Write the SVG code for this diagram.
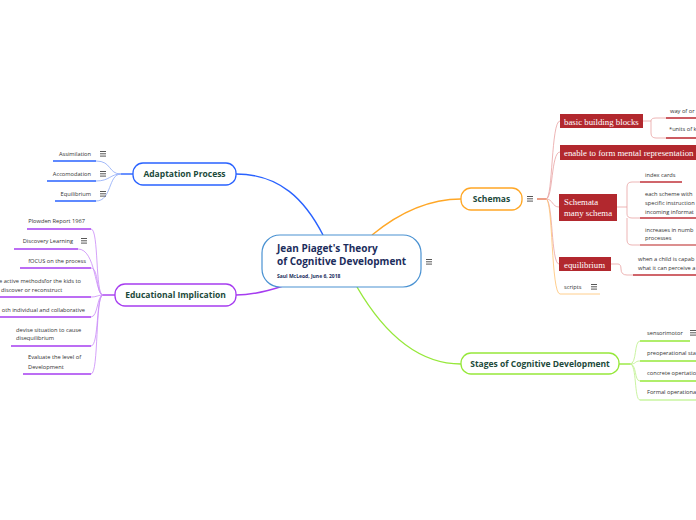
<svg xmlns="http://www.w3.org/2000/svg" xmlns:xlink="http://www.w3.org/1999/xlink" width="696" height="520" viewBox="0 0 696 520">
<defs>
<style>
.leaf{font-family:"Open Sans","Noto Sans",sans-serif;font-size:5.7px;fill:#333}
.end{text-anchor:end}
.topic{font-family:"Open Sans","Noto Sans",sans-serif;font-size:8.5px;font-weight:bold;fill:#1d4a3b;text-anchor:middle}
.title{font-family:"Open Sans","Noto Sans",sans-serif;font-size:10px;font-weight:bold;fill:#1b2d5c}
.sub{font-family:"Open Sans","Noto Sans",sans-serif;font-size:5px;font-weight:bold;fill:#1b2d5c}
.red{fill:#b2282e}
.redt{font-family:"Liberation Serif","DejaVu Serif",serif;font-size:8.8px;fill:#fff}
.thin{fill:none;stroke-width:0.8}
.ul{fill:none;stroke-width:1.6}
</style>
<g id="menu"><path d="M0,0.5H6M0,2.8H6M0,5.1H6" stroke="#444" stroke-width="0.9" fill="none"/></g>
</defs>
<rect width="696" height="520" fill="#fff"/>
<g id="connectors">
<path d="M323,235 C305,200 280,174 236,174" fill="none" stroke="#2962ff" stroke-width="1.4"/>
<path d="M283,286 C265,292 250,295 236,295" fill="none" stroke="#a63cf0" stroke-width="1.4"/>
<path d="M372,235 C400,212 430,199 461,199" fill="none" stroke="#ffa726" stroke-width="1.4"/>
<path d="M357,287 C385,335 420,364 461,364" fill="none" stroke="#96e83a" stroke-width="1.4"/>
<path d="M121,174 H133" stroke="#2962ff" stroke-width="1.4"/>
<g class="thin" stroke="#8ca8f7">
<path d="M96,161 C112,161 108,174 121,174"/>
<path d="M96,181 C110,181 110,174 121,174"/>
<path d="M96,201 C112,201 108,174 121,174"/>
</g>
<path d="M103,295 H115" stroke="#a63cf0" stroke-width="1.4"/>
<g class="thin" stroke="#c98af8">
<path d="M91,229 C99,229 95,295 103,295"/>
<path d="M78,249 C96,249 95,295 103,295"/>
<path d="M91,268 C99,268 96,295 103,295"/>
<path d="M91,297 C97,297 98,295 103,295"/>
<path d="M91,317 C98,317 97,295 103,295"/>
<path d="M91,346 C99,346 96,295 103,295"/>
<path d="M91,374 C99,374 95,295 103,295"/>
</g>
<path d="M537,199 H546" stroke="#e0603a" stroke-width="1.2"/>
<g class="thin" stroke="#e8a2a2">
<path d="M546,199 C553,199 551,121 560,121"/>
<path d="M546,199 C553,199 551,152 560,152"/>
<path d="M546,199 C553,199 552,207 559,207"/>
<path d="M546,199 C553,199 551,264 559,264"/>
<path d="M643,121 H651 M651,121 Q651,118 656,118 H666 M651,121 V133 Q651,138 656,138 H666"/>
<path d="M617,207 H627 M627,207 V187 Q627,182 632,182 H640 M627,207 V214 Q627,218 632,218 H640 M627,218 V240 Q627,245 632,245 H640"/>
<path d="M611,264 H618 Q621,264 621,269 Q621,275 627,275 H633"/>
</g>
<path d="M546,199 C553,199 551,294 560,294 H600" class="thin" stroke="#ffc270"/>
<path d="M619,364 H630" stroke="#96e83a" stroke-width="1.4"/>
<g class="thin" stroke="#bdf08a">
<path d="M630,364 C637,364 634,341 640,341"/>
<path d="M630,364 C637,364 634,361 640,361"/>
<path d="M630,364 C637,364 634,381 640,381"/>
<path d="M630,364 C637,364 634,400 640,400"/>
</g>
</g>
<g id="central">
<rect x="262" y="235" width="159" height="52" rx="18" fill="#fff" stroke="#4a92d2" stroke-width="1.2"/>
<text class="title" x="277" y="252">Jean Piaget's Theory</text>
<text class="title" x="277" y="265">of Cognitive Development</text>
<text class="sub" x="277" y="278">Saul McLeod, June 6, 2018</text>
<use xlink:href="#menu" x="426" y="259"/>
</g>
<g id="adaptation">
<rect x="133" y="163" width="103" height="22" rx="10" fill="#fff" stroke="#2962ff" stroke-width="1.3"/>
<text class="topic" x="184.5" y="177">Adaptation Process</text>
</g>
<g id="assimilation">
<text class="leaf end" x="91" y="156">Assimilation</text>
<use xlink:href="#menu" x="100" y="151"/>
<path class="ul" d="M53,161 H96" stroke="#2962ff"/>
</g>
<g id="accomodation">
<text class="leaf end" x="91" y="176">Accomodation</text>
<use xlink:href="#menu" x="100" y="171"/>
<path class="ul" d="M47,181 H96" stroke="#2962ff"/>
</g>
<g id="equilibrium-a">
<text class="leaf end" x="91" y="196">Equilibrium</text>
<use xlink:href="#menu" x="100" y="191"/>
<path class="ul" d="M55,201 H96" stroke="#2962ff"/>
</g>
<g id="educational">
<rect x="115" y="284" width="121" height="22" rx="10" fill="#fff" stroke="#a63cf0" stroke-width="1.3"/>
<text class="topic" x="175.5" y="298">Educational Implication</text>
</g>
<g id="plowden">
<text class="leaf end" x="85" y="223">Plowden Report 1967</text>
<path class="ul" d="M27,229 H91" stroke="#a63cf0"/>
</g>
<g id="discovery">
<text class="leaf end" x="73" y="243">Discovery Learning</text>
<use xlink:href="#menu" x="81" y="238"/>
<path class="ul" d="M14,249 H78" stroke="#a63cf0"/>
</g>
<g id="focus">
<text class="leaf end" x="86" y="263">fOCUS on the process</text>
<path class="ul" d="M20,268 H91" stroke="#a63cf0"/>
</g>
<g id="active">
<text class="leaf" x="-1" y="283">e active methodsfor the kids to</text>
<text class="leaf" x="1" y="292">discover or reconstruct</text>
<path class="ul" d="M0,297 H91" stroke="#a63cf0"/>
</g>
<g id="individual">
<text class="leaf end" x="85" y="312">oth individual and collaborative</text>
<path class="ul" d="M0,317 H91" stroke="#a63cf0"/>
</g>
<g id="devise">
<text class="leaf" x="16" y="332">devise situation to cause</text>
<text class="leaf" x="16" y="340">disequilibrium</text>
<path class="ul" d="M11,346 H91" stroke="#a63cf0"/>
</g>
<g id="evaluate">
<text class="leaf" x="28" y="359">Evaluate the level of</text>
<text class="leaf" x="28" y="369">Development</text>
<path class="ul" d="M23,374 H91" stroke="#a63cf0"/>
</g>
<g id="schemas">
<rect x="461" y="188" width="61" height="22" rx="10" fill="#fff" stroke="#ffa726" stroke-width="1.3"/>
<text class="topic" x="491.5" y="202">Schemas</text>
<use xlink:href="#menu" x="527" y="196"/>
</g>
<g id="basic">
<rect class="red" x="560" y="114" width="83" height="14"/>
<text class="redt" x="564" y="124.5">basic building blocks</text>
</g>
<g id="wayof">
<text class="leaf" x="670" y="113">way of or</text>
<path class="ul" d="M666,118 H696" stroke="#c0323a"/>
</g>
<g id="units">
<text class="leaf" x="669" y="131">*units of k</text>
<path class="ul" d="M666,138 H696" stroke="#c0323a"/>
</g>
<g id="enable">
<rect class="red" x="560" y="145" width="137" height="15"/>
<text class="redt" x="564" y="156">enable to form mental representation</text>
</g>
<g id="schemata">
<rect class="red" x="559" y="194" width="58" height="27"/>
<text class="redt" x="564" y="205">Schemata</text>
<text class="redt" x="564" y="215.5">many schema</text>
</g>
<g id="index">
<text class="leaf" x="645" y="177">index cards</text>
<path class="ul" d="M640,182 H682" stroke="#c0323a"/>
</g>
<g id="each">
<text class="leaf" x="645" y="196">each scheme with</text>
<text class="leaf" x="645" y="205">specific instruction</text>
<text class="leaf" x="645" y="214">incoming informat</text>
<path class="ul" d="M640,218 H696" stroke="#c0323a"/>
</g>
<g id="increases">
<text class="leaf" x="645" y="232">increases in numb</text>
<text class="leaf" x="645" y="240">processes</text>
<path class="ul" d="M640,245 H696" stroke="#d06a6a"/>
</g>
<g id="equilibrium-s">
<rect class="red" x="559" y="257" width="52" height="14"/>
<text class="redt" x="564" y="267.5">equilibrium</text>
</g>
<g id="child">
<text class="leaf" x="638" y="261">when a child is capab</text>
<text class="leaf" x="638" y="270">what it can perceive a</text>
<path class="ul" d="M633,275 H696" stroke="#c0323a"/>
</g>
<g id="scripts">
<text class="leaf" x="564" y="289">scripts</text>
<use xlink:href="#menu" x="591" y="284"/>
</g>
<g id="stages">
<rect x="461" y="353" width="158" height="21" rx="10" fill="#fff" stroke="#96e83a" stroke-width="1.3"/>
<text class="topic" x="540" y="367">Stages of Cognitive Development</text>
</g>
<g id="sensorimotor">
<text class="leaf" x="647" y="335">sensorimotor</text>
<use xlink:href="#menu" x="690" y="330"/>
<path class="ul" d="M640,341 H690" stroke="#96e83a"/>
</g>
<g id="preop">
<text class="leaf" x="647" y="355">preoperational sta</text>
<path class="ul" d="M640,361 H696" stroke="#96e83a"/>
</g>
<g id="concrete">
<text class="leaf" x="647" y="375">concrete opertatio</text>
<path class="ul" d="M640,381 H696" stroke="#96e83a"/>
</g>
<g id="formal">
<text class="leaf" x="647" y="394">Formal operationa</text>
<path class="ul" d="M640,400 H696" stroke="#c8f5a0"/>
</g>
</svg>
